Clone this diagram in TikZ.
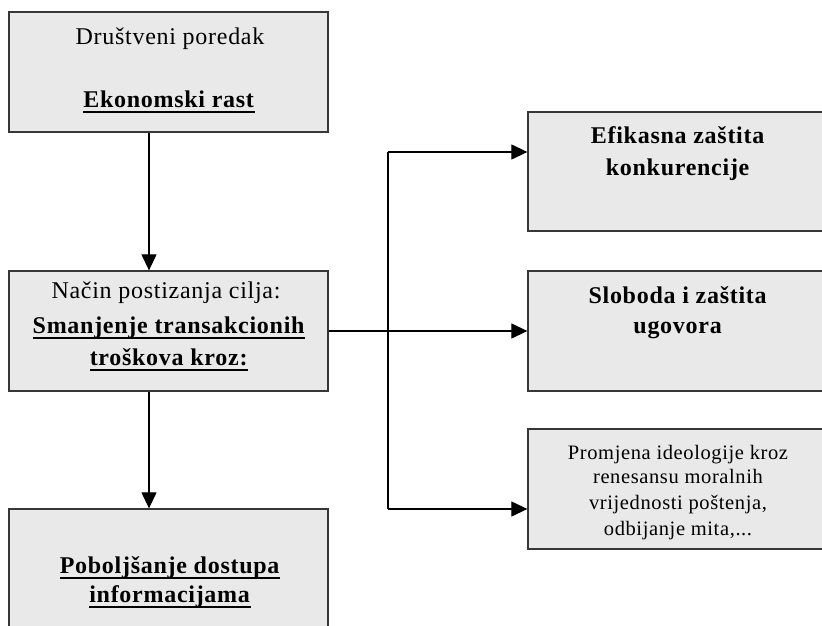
\documentclass[tikz,border=0pt]{standalone}
\usepackage{fontspec}
\setmainfont{Liberation Serif}[LetterSpace=3]
\usetikzlibrary{arrows.meta}
\definecolor{boxfill}{RGB}{233,233,233}
\definecolor{boxline}{RGB}{55,55,55}
\newcommand\ulx[1]{\setbox0\hbox{#1}\rlap{\rule[-6.2pt]{\wd0}{2pt}}\box0}
\tikzset{
 box/.style={draw=boxline, line width=1.3pt, fill=boxfill, inner sep=0pt},
 txt/.style={anchor=base, inner sep=0pt, font=\fontsize{24}{28}\selectfont},
 smalltxt/.style={anchor=base, inner sep=0pt, font=\fontsize{20.5}{24}\selectfont},
 arr/.style={draw=black, line width=1.2pt, -{Triangle[length=16pt,width=15pt]}},
 wire/.style={draw=black, line width=1.2pt},
}
\begin{document}
\begin{tikzpicture}[x=1pt,y=-1pt]
\useasboundingbox (0,0) rectangle (822,626);
\clip (0,0) rectangle (822,626);
% boxes
\node[box, minimum width=319pt, minimum height=120pt] (b1) at (168.5,72) {};
\node[box, minimum width=319pt, minimum height=120pt] (b2) at (168.5,331) {};
\node[box, minimum width=319pt, minimum height=141pt] (b3) at (168.5,579.5) {};
\node[box, minimum width=299pt, minimum height=119pt] (bA) at (677.5,171.5) {};
\node[box, minimum width=299pt, minimum height=120pt] (bB) at (677.5,331) {};
\node[box, minimum width=299pt, minimum height=120pt] (bC) at (677.5,489) {};
% texts
\node[txt] (t1a) at (170,45) {Društveni poredak};
\node[txt] (t1b) at (169,107) {\ulx{\textbf{Ekonomski rast}}};
\node[txt] (t2a) at (166,298) {Način postizanja cilja:};
\node[txt] (t2b) at (169,333) {\ulx{\textbf{Smanjenje transakcionih}}};
\node[txt] (t2c) at (169,365) {\ulx{\textbf{troškova kroz:}}};
\node[txt] (t3a) at (170,573) {\ulx{\textbf{Poboljšanje dostupa}}};
\node[txt] (t3b) at (170,602) {\ulx{\textbf{informacijama}}};
\node[txt] (tAa) at (678,143) {\textbf{Efikasna zaštita}};
\node[txt] (tAb) at (678,175) {\textbf{konkurencije}};
\node[txt] (tBa) at (678,303) {\textbf{Sloboda i zaštita}};
\node[txt] (tBb) at (678,333) {\textbf{ugovora}};
\node[smalltxt] (tCa) at (678,459) {Promjena ideologije kroz};
\node[smalltxt] (tCb) at (678,483.5) {renesansu moralnih};
\node[smalltxt] (tCc) at (678,509.5) {vrijednosti poštenja,};
\node[smalltxt] (tCd) at (678,535) {odbijanje mita,...};
% connectors
\coordinate (ja) at (388,152);
\coordinate (jc) at (388,509);
\draw[arr] ([xshift=-19.5pt]b1.south) -- ([xshift=-19.5pt]b2.north);
\draw[arr] ([xshift=-19.5pt]b2.south) -- ([xshift=-19.5pt]b3.north);
\draw[arr] (b2.east) -- (bB.west);
\draw[wire] (ja) -- (jc);
\draw[arr] (ja) -- (ja -| bA.west);
\draw[arr] (jc) -- (jc -| bC.west);
\end{tikzpicture}
\end{document}
